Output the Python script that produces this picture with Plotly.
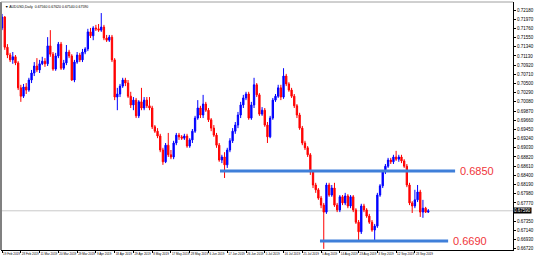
import plotly.graph_objects as go
import pandas as pd

dates = pd.bdate_range("2019-02-19", periods=160).strftime("%Y-%m-%d").tolist()

opens = [0.7177,0.7202,0.7133,0.7115,0.7104,0.7111,0.7097,0.7040,0.7021,0.7042,
0.7035,0.7058,0.7074,0.7090,0.7081,0.7095,0.7101,0.7095,0.7136,0.7117,
0.7083,0.7113,0.7140,0.7085,0.7097,0.7122,0.7113,0.7058,0.7099,0.7115,
0.7104,0.7122,0.7129,0.7168,0.7159,0.7177,0.7175,0.7172,0.7179,0.7154,
0.7149,0.7156,0.7104,0.7019,0.7026,0.7044,0.7058,0.7051,0.7021,0.7001,
0.7012,0.6976,0.7008,0.6994,0.7012,0.6999,0.6994,0.6951,0.6941,0.6930,
0.6898,0.6871,0.6909,0.6887,0.6882,0.6914,0.6932,0.6928,0.6925,0.6930,
0.6907,0.6921,0.6941,0.6971,0.6994,0.6978,0.7003,0.6989,0.6967,0.6948,
0.6932,0.6909,0.6875,0.6882,0.6864,0.6898,0.6919,0.6941,0.6955,0.6978,
0.7001,0.7017,0.7026,0.6971,0.7001,0.7047,0.7024,0.6980,0.6989,0.6955,
0.6928,0.6971,0.7012,0.7021,0.7040,0.7019,0.7067,0.7049,0.7035,0.7021,
0.6999,0.6978,0.6948,0.6914,0.6903,0.6887,0.6848,0.6818,0.6807,0.6788,
0.6772,0.6756,0.6818,0.6795,0.6811,0.6772,0.6761,0.6791,0.6777,0.6793,
0.6770,0.6791,0.6761,0.6733,0.6711,0.6770,0.6761,0.6747,0.6733,0.6715,
0.6724,0.6795,0.6816,0.6848,0.6861,0.6875,0.6871,0.6882,0.6877,0.6882,
0.6873,0.6861,0.6818,0.6777,0.6770,0.6784,0.6802,0.6756,0.6765,0.6756]

highs = [0.7209,0.7204,0.7140,0.7120,0.7122,0.7115,0.7101,0.7047,0.7049,0.7051,
0.7063,0.7081,0.7099,0.7108,0.7104,0.7111,0.7108,0.7156,0.7172,0.7122,
0.7120,0.7145,0.7145,0.7104,0.7138,0.7127,0.7117,0.7104,0.7122,0.7120,
0.7129,0.7133,0.7175,0.7177,0.7181,0.7184,0.7186,0.7211,0.7184,0.7161,
0.7161,0.7161,0.7108,0.7040,0.7049,0.7063,0.7063,0.7058,0.7031,0.7019,
0.7017,0.7012,0.7040,0.7019,0.7019,0.7019,0.6999,0.6955,0.6948,0.6935,
0.6903,0.6914,0.6937,0.6898,0.6919,0.6937,0.6937,0.6932,0.6935,0.6935,
0.6925,0.6946,0.6976,0.7012,0.6999,0.7024,0.7008,0.6994,0.6971,0.6955,
0.6937,0.6914,0.6887,0.6893,0.6903,0.6925,0.6948,0.6962,0.6985,0.7008,
0.7024,0.7031,0.7031,0.7008,0.7063,0.7051,0.7028,0.6996,0.6994,0.6962,
0.6976,0.7017,0.7026,0.7047,0.7047,0.7085,0.7072,0.7053,0.7040,0.7026,
0.7003,0.6983,0.6953,0.6919,0.6907,0.6891,0.6852,0.6823,0.6811,0.6793,
0.6777,0.6823,0.6823,0.6818,0.6823,0.6777,0.6795,0.6795,0.6800,0.6797,
0.6795,0.6795,0.6765,0.6738,0.6775,0.6775,0.6765,0.6752,0.6738,0.6729,
0.6800,0.6820,0.6852,0.6866,0.6880,0.6880,0.6887,0.6896,0.6887,0.6887,
0.6877,0.6866,0.6823,0.6781,0.6807,0.6818,0.6807,0.6784,0.6768,0.6763]

lows = [0.7172,0.7127,0.7108,0.7099,0.7095,0.7092,0.7035,0.7008,0.7017,0.7026,
0.7031,0.7051,0.7067,0.7076,0.7074,0.7092,0.7088,0.7090,0.7111,0.7079,
0.7079,0.7108,0.7081,0.7081,0.7092,0.7108,0.7056,0.7053,0.7095,0.7099,
0.7099,0.7117,0.7124,0.7154,0.7149,0.7170,0.7168,0.7168,0.7149,0.7145,
0.7145,0.7099,0.7012,0.6989,0.7019,0.7040,0.7044,0.7017,0.6994,0.6989,
0.6971,0.6971,0.6989,0.6989,0.6994,0.6989,0.6946,0.6937,0.6925,0.6893,
0.6864,0.6868,0.6882,0.6877,0.6877,0.6909,0.6921,0.6921,0.6921,0.6903,
0.6903,0.6914,0.6937,0.6967,0.6971,0.6971,0.6985,0.6962,0.6941,0.6928,
0.6903,0.6871,0.6868,0.6834,0.6857,0.6893,0.6914,0.6935,0.6948,0.6971,
0.6994,0.7012,0.6967,0.6967,0.6994,0.7019,0.6976,0.6976,0.6951,0.6914,
0.6925,0.6967,0.7008,0.7017,0.7012,0.7015,0.7044,0.7031,0.7017,0.6994,
0.6971,0.6944,0.6909,0.6898,0.6882,0.6841,0.6811,0.6800,0.6784,0.6765,
0.6672,0.6752,0.6791,0.6791,0.6768,0.6756,0.6756,0.6772,0.6772,0.6765,
0.6765,0.6756,0.6729,0.6688,0.6706,0.6756,0.6743,0.6729,0.6711,0.6688,
0.6720,0.6791,0.6811,0.6843,0.6857,0.6866,0.6866,0.6873,0.6871,0.6868,
0.6857,0.6813,0.6772,0.6754,0.6765,0.6779,0.6745,0.6743,0.6754,0.6754]

closes = [0.7202,0.7133,0.7115,0.7104,0.7111,0.7097,0.7040,0.7021,0.7042,0.7035,
0.7058,0.7074,0.7090,0.7081,0.7095,0.7101,0.7095,0.7136,0.7117,0.7083,
0.7113,0.7140,0.7085,0.7097,0.7122,0.7113,0.7058,0.7099,0.7115,0.7104,
0.7122,0.7129,0.7168,0.7159,0.7177,0.7175,0.7172,0.7179,0.7154,0.7149,
0.7156,0.7104,0.7019,0.7026,0.7044,0.7058,0.7051,0.7021,0.7001,0.7012,
0.6976,0.7008,0.6994,0.7012,0.6999,0.6994,0.6951,0.6941,0.6930,0.6898,
0.6871,0.6909,0.6887,0.6882,0.6914,0.6932,0.6928,0.6925,0.6930,0.6907,
0.6921,0.6941,0.6971,0.6994,0.6978,0.7003,0.6989,0.6967,0.6948,0.6932,
0.6909,0.6875,0.6882,0.6864,0.6898,0.6919,0.6941,0.6955,0.6978,0.7001,
0.7017,0.7026,0.6971,0.7001,0.7047,0.7024,0.6980,0.6989,0.6955,0.6928,
0.6971,0.7012,0.7021,0.7040,0.7019,0.7067,0.7049,0.7035,0.7021,0.6999,
0.6978,0.6948,0.6914,0.6903,0.6887,0.6848,0.6818,0.6807,0.6788,0.6772,
0.6756,0.6818,0.6795,0.6811,0.6772,0.6761,0.6791,0.6777,0.6793,0.6770,
0.6791,0.6761,0.6733,0.6711,0.6770,0.6761,0.6747,0.6733,0.6715,0.6724,
0.6795,0.6816,0.6848,0.6861,0.6875,0.6871,0.6882,0.6877,0.6882,0.6873,
0.6861,0.6818,0.6777,0.6770,0.6784,0.6802,0.6756,0.6765,0.6756,0.6759]

levels = [0.6850, 0.6690]
level_labels = ["0.6850", "0.6690"]
current_price = 0.6759
current_label = "0.67590"
title_text = "AUDUSD,Daily  0.67560 0.67620 0.67540 0.67590"

price_ticks = [0.6672, 0.6693, 0.6714, 0.6735, 0.6777, 0.6798, 0.6819, 0.6840,
               0.6861, 0.6882, 0.6903, 0.6924, 0.6945, 0.6966, 0.6987, 0.7008,
               0.7029, 0.7050, 0.7071, 0.7092, 0.7113, 0.7134, 0.7155, 0.7176,
               0.7197, 0.7218]

tick_dates = dates[::7]
tick_text = [pd.Timestamp(d).strftime("%-d %b %Y") for d in tick_dates]

BULL = "#0000FF"
BEAR = "#FF0000"
LEVEL_BLUE = "#3F7FD9"
LABEL_RED = "#F0353A"

fig = go.Figure(go.Candlestick(
    x=dates, open=opens, high=highs, low=lows, close=closes,
    increasing=dict(line=dict(color=BULL, width=1), fillcolor=BULL),
    decreasing=dict(line=dict(color=BEAR, width=1), fillcolor=BEAR),
    whiskerwidth=0, showlegend=False, hoverinfo="skip"))

# level lines (x-positions in category index units)
line_spans = [(81.3, 169.0), (118.6, 166.4)]
label_x = [170.0, 167.6]
for lv, (x0, x1), lab, lx in zip(levels, line_spans, level_labels, label_x):
    fig.add_shape(type="line", xref="x", yref="y", x0=x0, x1=x1, y0=lv, y1=lv,
                  line=dict(color=LEVEL_BLUE, width=3))
    fig.add_annotation(x=lx, y=lv, xref="x", yref="y", text=lab, showarrow=False,
                       xanchor="left", yanchor="middle",
                       font=dict(family="Liberation Sans", size=11, color=LABEL_RED))

# current price line
fig.add_shape(type="line", xref="paper", yref="y", x0=0, x1=1, y0=current_price, y1=current_price,
              line=dict(color="#C8C8C8", width=1), layer="below")
fig.add_annotation(x=1, y=current_price, xref="paper", yref="y", text=current_label, showarrow=False,
                   xanchor="left", yanchor="middle", bgcolor="#000000", borderpad=0,
                   font=dict(family="Liberation Sans", size=4.5, color="#FFFFFF"))

# borders
fig.add_shape(type="line", xref="paper", yref="paper", x0=0, x1=0, y0=0, y1=1,
              line=dict(color="#808080", width=2))
fig.add_shape(type="line", xref="paper", yref="paper", x0=0, x1=1, y0=1, y1=1,
              line=dict(color="#A0A0A0", width=1))

fig.add_annotation(x=0.004, y=0.995, xref="paper", yref="paper", text="▼ " + title_text,
                   showarrow=False, xanchor="left", yanchor="top",
                   font=dict(family="Liberation Sans", size=3.5, color="#000000"))

fig.update_layout(
    width=552, height=259,
    margin=dict(l=1, r=39, t=2, b=9),
    paper_bgcolor="white", plot_bgcolor="white",
    xaxis=dict(type="category", range=[-0.4, 190.6], rangeslider=dict(visible=False),
               tickvals=tick_dates, ticktext=tick_text, ticks="outside", ticklen=2,
               tickangle=0, automargin=False,
               tickcolor="#000000", ticklabelposition="outside right",
               tickfont=dict(family="Liberation Sans", size=3, color="#000000"),
               showline=True, linecolor="#000000", linewidth=1, showgrid=False, zeroline=False),
    yaxis=dict(side="right", range=[0.66694, 0.72363], tickvals=price_ticks,
               tickformat=".5f", ticks="outside", ticklen=2, tickcolor="#000000",
               automargin=False,
               tickfont=dict(family="Liberation Sans", size=4.5, color="#000000"),
               showline=True, linecolor="#000000", linewidth=1, showgrid=False, zeroline=False),
)

fig.write_html("out.html")
